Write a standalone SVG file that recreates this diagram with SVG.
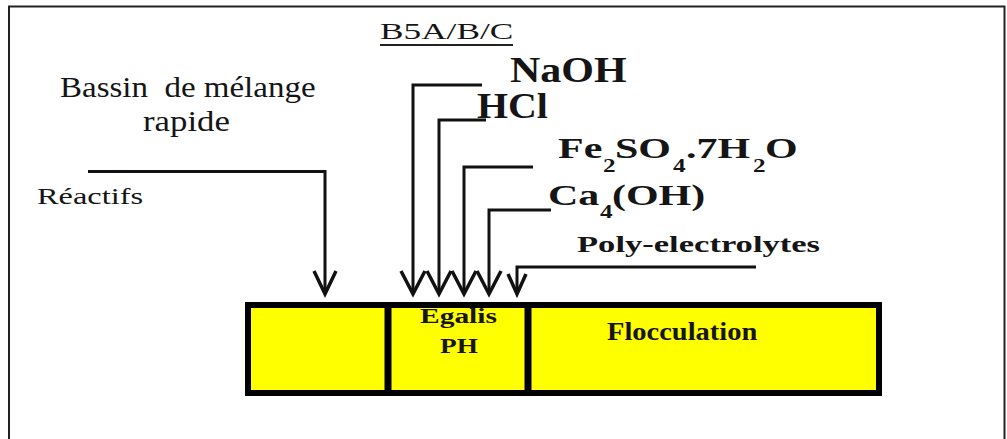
<svg xmlns="http://www.w3.org/2000/svg" width="1007" height="439" viewBox="0 0 1007 439">
  <defs>
    <style>
      .serif { font-family: "Liberation Serif", "Times New Roman", serif; fill: #151515; }
      .bold { font-weight: bold; }
      .conn { fill: none; stroke: #111; stroke-width: 3; }
      .head { fill: none; stroke: #111; stroke-width: 3.5; stroke-linejoin: miter; }
      .tank { fill: #FFFF00; stroke: none; }
      .edge { fill: none; stroke: #000; stroke-width: 6; }
      .sub { font-size: 18px; }
    </style>
  </defs>
  <rect x="0" y="0" width="1007" height="439" fill="#fff"/>
  <!-- outer frame -->
  <path d="M9,439 V6.5 H1004.5 V439" fill="none" stroke="#222" stroke-width="2"/>

  <!-- labels -->
  <g id="label-bassin">
    <text class="serif" transform="translate(60,97) scale(1.1,1)" font-size="30" style="white-space:pre">Bassin  de mélange</text>
    <text class="serif" transform="translate(143,131) scale(1.16,1)" font-size="30">rapide</text>
  </g>
  <g id="label-reactifs">
    <text class="serif" transform="translate(37,204) scale(1.35,1)" font-size="24">Réactifs</text>
  </g>
  <g id="label-b5a">
    <text class="serif" transform="translate(380,39) scale(1.47,1)" font-size="24">B5A/B/C</text>
    <line x1="380" y1="45" x2="513" y2="45" stroke="#222" stroke-width="2"/>
  </g>
  <g id="label-naoh">
    <text class="serif bold" transform="translate(510,81.5) scale(1.2,1)" font-size="35">NaOH</text>
  </g>
  <g id="label-hcl">
    <text class="serif bold" transform="translate(477,118) scale(1.14,1)" font-size="35">HCl</text>
  </g>
  <g id="label-fe">
    <text class="serif bold" transform="translate(558,158) scale(1.4,1)" font-size="30"><tspan x="0" y="0">Fe</tspan><tspan class="sub" x="32.1" y="14">2</tspan><tspan x="40.7" y="0">SO</tspan><tspan class="sub" x="82.1" y="14">4</tspan><tspan x="91.4" y="0">.7H</tspan><tspan class="sub" x="139.3" y="14">2</tspan><tspan x="147.9" y="0">O</tspan></text>
  </g>
  <g id="label-ca">
    <text class="serif bold" transform="translate(548,205) scale(1.4,1)" font-size="30"><tspan x="0" y="0">Ca</tspan><tspan class="sub" x="37.1" y="13">4</tspan><tspan x="45.7" y="0">(OH)</tspan></text>
  </g>
  <g id="label-poly">
    <text class="serif bold" transform="translate(577,252) scale(1.44,1)" font-size="24">Poly-electrolytes</text>
  </g>

  <!-- connectors -->
  <g id="connectors">
    <path class="conn" d="M88,171.5 H325 V293"/>
    <polyline class="head" points="314,271 325,294 336,271"/>
    <path class="conn" d="M482,85 H413 V293"/>
    <polyline class="head" points="401,271 413,294 425,271"/>
    <path class="conn" d="M486,120 H439 V293"/>
    <polyline class="head" points="427,271 439,294 451,271"/>
    <path class="conn" d="M533,167 H464 V293"/>
    <polyline class="head" points="452,271 464,294 476,271"/>
    <path class="conn" d="M551,210 H489 V293"/>
    <polyline class="head" points="477,271 489,294 501,271"/>
    <path class="conn" d="M756,267 H517 V293"/>
    <polyline class="head" points="508,274 517,294 526,274"/>
  </g>

  <!-- tanks -->
  <g id="tank-melange">
    <rect class="tank" x="248" y="305" width="140" height="88"/>
  </g>
  <g id="tank-egalis">
    <rect class="tank" x="388" y="305" width="140" height="88"/>
    <text class="serif bold" transform="translate(420,323) scale(1.34,1)" font-size="22">Egalis</text>
    <text class="serif bold" transform="translate(440,353) scale(1.24,1)" font-size="22">PH</text>
  </g>
  <g id="tank-flocculation">
    <rect class="tank" x="528" y="305" width="351" height="88"/>
    <text class="serif bold" transform="translate(607,340) scale(1.14,1)" font-size="25">Flocculation</text>
  </g>
  <g id="tank-walls">
    <rect class="edge" x="248" y="305" width="631" height="88"/>
    <line x1="388" y1="305" x2="388" y2="393" stroke="#000" stroke-width="7"/>
    <line x1="528" y1="305" x2="528" y2="393" stroke="#000" stroke-width="7"/>
  </g>
</svg>
